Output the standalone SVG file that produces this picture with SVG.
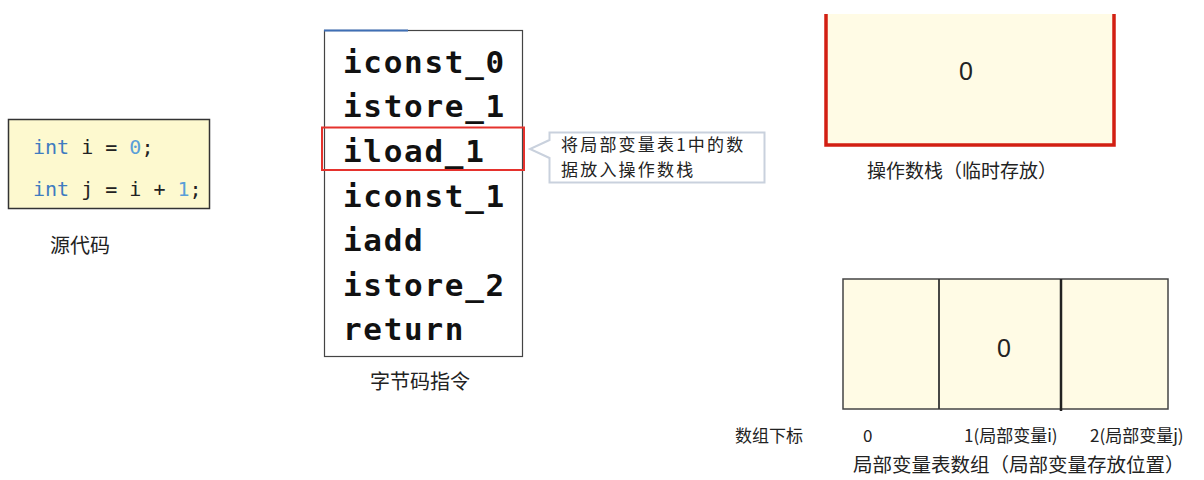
<svg xmlns="http://www.w3.org/2000/svg" width="1204" height="480" viewBox="0 0 1204 480">
<style>
.cn{font-family:"Noto Sans CJK SC","Liberation Sans",sans-serif;fill:#222}
.code{font-family:"DejaVu Sans Mono","Liberation Mono",monospace;font-size:20px;fill:#222}
.kw{fill:#3f7cc0}
.num{fill:#5a9fd8}
.bc{font-family:"DejaVu Sans Mono","Liberation Mono",monospace;font-weight:bold;font-size:31px;letter-spacing:1.7px;fill:#111}
.num0{font-family:"Liberation Sans",sans-serif;font-size:25px;fill:#222;text-anchor:middle}
</style>
<rect width="1204" height="480" fill="#ffffff"/>
<g id="source">
<rect x="8.5" y="119.5" width="201" height="89" fill="#fdf9cf" stroke="#333" stroke-width="1.5"/>
<text class="code" x="33" y="154"><tspan class="kw">int</tspan> i = <tspan class="num">0</tspan>;</text>
<text class="code" x="33" y="196"><tspan class="kw">int</tspan> j = i + <tspan class="num">1</tspan>;</text>
<text class="cn" x="80" y="253" font-size="20" text-anchor="middle">源代码</text>
</g>
<g id="bytecode">
<rect x="324.5" y="30.5" width="198" height="326" fill="#fff" stroke="#444" stroke-width="1.2"/>
<line x1="324" y1="30.5" x2="408" y2="30.5" stroke="#3f6fb5" stroke-width="2"/>
<text class="bc" x="343" y="73">iconst_0</text>
<text class="bc" x="343" y="117">istore_1</text>
<text class="bc" x="343" y="162">iload_1</text>
<text class="bc" x="343" y="207">iconst_1</text>
<text class="bc" x="343" y="251">iadd</text>
<text class="bc" x="343" y="296">istore_2</text>
<text class="bc" x="343" y="340">return</text>
<rect x="322" y="127.5" width="202" height="42.5" fill="none" stroke="#e5322d" stroke-width="2"/>
<text class="cn" x="420" y="389" font-size="20" text-anchor="middle">字节码指令</text>
</g>
<g id="callout">
<path d="M549.5 132.5 H764.5 V182.5 H549.5 V158 L530 149 L549.5 140 Z" fill="#fff" stroke="#c9d1dd" stroke-width="2"/>
<text class="cn" x="561" y="151" font-size="17" letter-spacing="2.2">将局部变量表1中的数</text>
<text class="cn" x="561" y="176" font-size="17" letter-spacing="2.2">据放入操作数栈</text>
</g>
<g id="operand-stack">
<rect x="826" y="14" width="288" height="131" fill="#fffbe5"/>
<path d="M826 14 V145 H1114 V14" fill="none" stroke="#d21f12" stroke-width="3.5"/>
<text class="num0" x="966" y="80">0</text>
<text class="cn" x="962" y="178" font-size="19" text-anchor="middle">操作数栈（临时存放）</text>
</g>
<g id="local-vars">
<rect x="843" y="279" width="325" height="130" fill="#fffbe5" stroke="#444" stroke-width="1.5"/>
<line x1="939" y1="279" x2="939" y2="409" stroke="#333" stroke-width="1.8"/>
<line x1="1061" y1="279" x2="1061" y2="411" stroke="#222" stroke-width="2.5"/>
<text class="num0" x="1004" y="357">0</text>
<text class="cn" x="735" y="442" font-size="17">数组下标</text>
<text class="cn" x="863" y="442" font-size="17">0</text>
<text class="cn" x="964" y="442" font-size="17">1(局部变量i)</text>
<text class="cn" x="1090" y="442" font-size="17">2(局部变量j)</text>
<text class="cn" x="853" y="472" font-size="19.5">局部变量表数组（局部变量存放位置）</text>
</g>
</svg>
